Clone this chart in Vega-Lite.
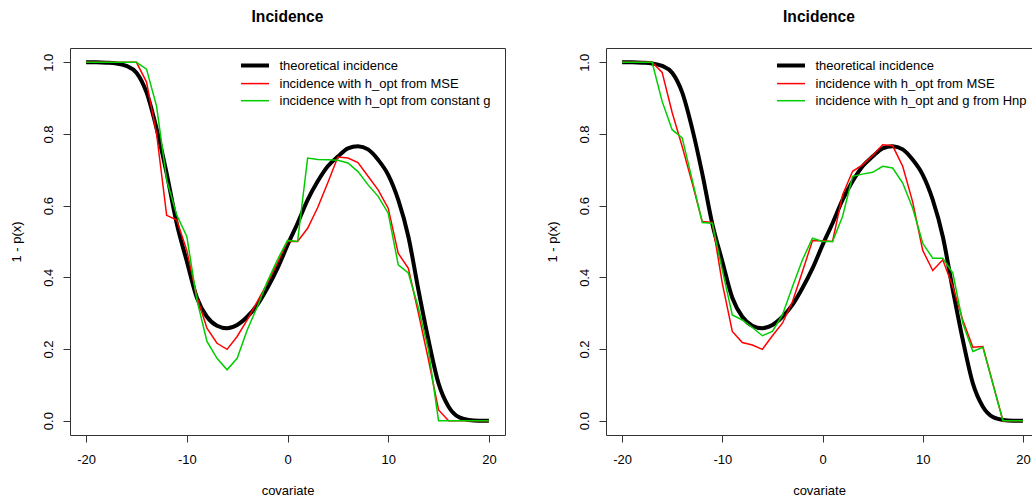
{
  "$schema": "https://vega.github.io/schema/vega-lite/v6.json",
  "background": "white",
  "padding": {"left": 9, "top": 9, "right": 0, "bottom": 0},
  "bounds": "flush",
  "spacing": 101,
  "resolve": {"scale": {"color": "independent"}, "legend": {"color": "independent"}},
  "datasets": {
    "theory": [
      {"x": -20, "p": 1.0}, {"x": -19, "p": 1.0}, {"x": -18, "p": 0.999}, {"x": -17, "p": 0.997},
      {"x": -16, "p": 0.99}, {"x": -15, "p": 0.971}, {"x": -14, "p": 0.916}, {"x": -13, "p": 0.815},
      {"x": -12, "p": 0.69}, {"x": -11, "p": 0.55}, {"x": -10, "p": 0.445}, {"x": -9, "p": 0.343},
      {"x": -8, "p": 0.29}, {"x": -7, "p": 0.265}, {"x": -6, "p": 0.258}, {"x": -5, "p": 0.267},
      {"x": -4, "p": 0.29}, {"x": -3, "p": 0.323}, {"x": -2, "p": 0.37}, {"x": -1, "p": 0.425},
      {"x": 0, "p": 0.49}, {"x": 1, "p": 0.551}, {"x": 2, "p": 0.616}, {"x": 3, "p": 0.668},
      {"x": 4, "p": 0.71}, {"x": 5, "p": 0.737}, {"x": 6, "p": 0.76}, {"x": 7, "p": 0.766},
      {"x": 8, "p": 0.757}, {"x": 9, "p": 0.728}, {"x": 10, "p": 0.686}, {"x": 11, "p": 0.616},
      {"x": 12, "p": 0.514}, {"x": 13, "p": 0.365}, {"x": 14, "p": 0.225}, {"x": 15, "p": 0.104},
      {"x": 16, "p": 0.039}, {"x": 17, "p": 0.01}, {"x": 18, "p": 0.002}, {"x": 19, "p": 0.0},
      {"x": 20, "p": 0.0}
    ],
    "left": [
      {"series": "incidence with h_opt from MSE", "x": -20, "p": 1.0},
      {"series": "incidence with h_opt from MSE", "x": -15, "p": 1.0},
      {"series": "incidence with h_opt from MSE", "x": -14, "p": 0.945},
      {"series": "incidence with h_opt from MSE", "x": -13, "p": 0.80},
      {"series": "incidence with h_opt from MSE", "x": -12, "p": 0.573},
      {"series": "incidence with h_opt from MSE", "x": -11, "p": 0.56},
      {"series": "incidence with h_opt from MSE", "x": -10, "p": 0.475},
      {"series": "incidence with h_opt from MSE", "x": -9, "p": 0.346},
      {"series": "incidence with h_opt from MSE", "x": -8, "p": 0.258},
      {"series": "incidence with h_opt from MSE", "x": -7, "p": 0.216},
      {"series": "incidence with h_opt from MSE", "x": -6, "p": 0.199},
      {"series": "incidence with h_opt from MSE", "x": -5, "p": 0.235},
      {"series": "incidence with h_opt from MSE", "x": -4, "p": 0.281},
      {"series": "incidence with h_opt from MSE", "x": -3, "p": 0.332},
      {"series": "incidence with h_opt from MSE", "x": -2, "p": 0.384},
      {"series": "incidence with h_opt from MSE", "x": -1, "p": 0.44},
      {"series": "incidence with h_opt from MSE", "x": 0, "p": 0.5},
      {"series": "incidence with h_opt from MSE", "x": 1, "p": 0.5},
      {"series": "incidence with h_opt from MSE", "x": 2, "p": 0.537},
      {"series": "incidence with h_opt from MSE", "x": 3, "p": 0.595},
      {"series": "incidence with h_opt from MSE", "x": 4, "p": 0.664},
      {"series": "incidence with h_opt from MSE", "x": 5, "p": 0.736},
      {"series": "incidence with h_opt from MSE", "x": 6, "p": 0.733},
      {"series": "incidence with h_opt from MSE", "x": 7, "p": 0.72},
      {"series": "incidence with h_opt from MSE", "x": 8, "p": 0.682},
      {"series": "incidence with h_opt from MSE", "x": 9, "p": 0.644},
      {"series": "incidence with h_opt from MSE", "x": 10, "p": 0.593},
      {"series": "incidence with h_opt from MSE", "x": 11, "p": 0.467},
      {"series": "incidence with h_opt from MSE", "x": 12, "p": 0.425},
      {"series": "incidence with h_opt from MSE", "x": 13, "p": 0.30},
      {"series": "incidence with h_opt from MSE", "x": 14, "p": 0.17},
      {"series": "incidence with h_opt from MSE", "x": 15, "p": 0.03},
      {"series": "incidence with h_opt from MSE", "x": 16, "p": 0.0},
      {"series": "incidence with h_opt from MSE", "x": 20, "p": 0.0},
      {"series": "incidence with h_opt from constant g", "x": -20, "p": 1.0},
      {"series": "incidence with h_opt from constant g", "x": -15, "p": 1.0},
      {"series": "incidence with h_opt from constant g", "x": -14, "p": 0.981},
      {"series": "incidence with h_opt from constant g", "x": -13, "p": 0.877},
      {"series": "incidence with h_opt from constant g", "x": -12, "p": 0.672},
      {"series": "incidence with h_opt from constant g", "x": -11, "p": 0.574},
      {"series": "incidence with h_opt from constant g", "x": -10, "p": 0.514},
      {"series": "incidence with h_opt from constant g", "x": -9, "p": 0.337},
      {"series": "incidence with h_opt from constant g", "x": -8, "p": 0.221},
      {"series": "incidence with h_opt from constant g", "x": -7, "p": 0.174},
      {"series": "incidence with h_opt from constant g", "x": -6, "p": 0.142},
      {"series": "incidence with h_opt from constant g", "x": -5, "p": 0.174},
      {"series": "incidence with h_opt from constant g", "x": -4, "p": 0.253},
      {"series": "incidence with h_opt from constant g", "x": -3, "p": 0.318},
      {"series": "incidence with h_opt from constant g", "x": -2, "p": 0.388},
      {"series": "incidence with h_opt from constant g", "x": -1, "p": 0.449},
      {"series": "incidence with h_opt from constant g", "x": 0, "p": 0.503},
      {"series": "incidence with h_opt from constant g", "x": 1, "p": 0.5},
      {"series": "incidence with h_opt from constant g", "x": 2, "p": 0.733},
      {"series": "incidence with h_opt from constant g", "x": 3, "p": 0.729},
      {"series": "incidence with h_opt from constant g", "x": 4, "p": 0.728},
      {"series": "incidence with h_opt from constant g", "x": 5, "p": 0.727},
      {"series": "incidence with h_opt from constant g", "x": 6, "p": 0.719},
      {"series": "incidence with h_opt from constant g", "x": 7, "p": 0.695},
      {"series": "incidence with h_opt from constant g", "x": 8, "p": 0.658},
      {"series": "incidence with h_opt from constant g", "x": 9, "p": 0.626},
      {"series": "incidence with h_opt from constant g", "x": 10, "p": 0.579},
      {"series": "incidence with h_opt from constant g", "x": 11, "p": 0.435},
      {"series": "incidence with h_opt from constant g", "x": 12, "p": 0.412},
      {"series": "incidence with h_opt from constant g", "x": 13, "p": 0.315},
      {"series": "incidence with h_opt from constant g", "x": 14, "p": 0.197},
      {"series": "incidence with h_opt from constant g", "x": 15, "p": 0.0},
      {"series": "incidence with h_opt from constant g", "x": 20, "p": 0.0}
    ],
    "right": [
      {"series": "incidence with h_opt from MSE", "x": -20, "p": 1.0},
      {"series": "incidence with h_opt from MSE", "x": -17, "p": 1.0},
      {"series": "incidence with h_opt from MSE", "x": -16, "p": 0.972},
      {"series": "incidence with h_opt from MSE", "x": -15, "p": 0.86},
      {"series": "incidence with h_opt from MSE", "x": -14, "p": 0.765},
      {"series": "incidence with h_opt from MSE", "x": -13, "p": 0.663},
      {"series": "incidence with h_opt from MSE", "x": -12, "p": 0.556},
      {"series": "incidence with h_opt from MSE", "x": -11, "p": 0.553},
      {"series": "incidence with h_opt from MSE", "x": -10, "p": 0.384},
      {"series": "incidence with h_opt from MSE", "x": -9, "p": 0.249},
      {"series": "incidence with h_opt from MSE", "x": -8, "p": 0.218},
      {"series": "incidence with h_opt from MSE", "x": -7, "p": 0.211},
      {"series": "incidence with h_opt from MSE", "x": -6, "p": 0.199},
      {"series": "incidence with h_opt from MSE", "x": -5, "p": 0.237},
      {"series": "incidence with h_opt from MSE", "x": -4, "p": 0.272},
      {"series": "incidence with h_opt from MSE", "x": -3, "p": 0.332},
      {"series": "incidence with h_opt from MSE", "x": -2, "p": 0.416},
      {"series": "incidence with h_opt from MSE", "x": -1, "p": 0.503},
      {"series": "incidence with h_opt from MSE", "x": 0, "p": 0.502},
      {"series": "incidence with h_opt from MSE", "x": 1, "p": 0.5},
      {"series": "incidence with h_opt from MSE", "x": 2, "p": 0.63},
      {"series": "incidence with h_opt from MSE", "x": 3, "p": 0.696},
      {"series": "incidence with h_opt from MSE", "x": 4, "p": 0.714},
      {"series": "incidence with h_opt from MSE", "x": 5, "p": 0.74},
      {"series": "incidence with h_opt from MSE", "x": 6, "p": 0.77},
      {"series": "incidence with h_opt from MSE", "x": 7, "p": 0.767},
      {"series": "incidence with h_opt from MSE", "x": 8, "p": 0.71},
      {"series": "incidence with h_opt from MSE", "x": 9, "p": 0.61},
      {"series": "incidence with h_opt from MSE", "x": 10, "p": 0.475},
      {"series": "incidence with h_opt from MSE", "x": 11, "p": 0.419},
      {"series": "incidence with h_opt from MSE", "x": 12, "p": 0.449},
      {"series": "incidence with h_opt from MSE", "x": 13, "p": 0.374},
      {"series": "incidence with h_opt from MSE", "x": 14, "p": 0.28},
      {"series": "incidence with h_opt from MSE", "x": 15, "p": 0.205},
      {"series": "incidence with h_opt from MSE", "x": 16, "p": 0.207},
      {"series": "incidence with h_opt from MSE", "x": 18, "p": 0.0},
      {"series": "incidence with h_opt from MSE", "x": 20, "p": 0.0},
      {"series": "incidence with h_opt and g from Hnp", "x": -20, "p": 1.0},
      {"series": "incidence with h_opt and g from Hnp", "x": -17, "p": 1.0},
      {"series": "incidence with h_opt and g from Hnp", "x": -16, "p": 0.891},
      {"series": "incidence with h_opt and g from Hnp", "x": -15, "p": 0.812},
      {"series": "incidence with h_opt and g from Hnp", "x": -14, "p": 0.789},
      {"series": "incidence with h_opt and g from Hnp", "x": -13, "p": 0.672},
      {"series": "incidence with h_opt and g from Hnp", "x": -12, "p": 0.553},
      {"series": "incidence with h_opt and g from Hnp", "x": -11, "p": 0.551},
      {"series": "incidence with h_opt and g from Hnp", "x": -10, "p": 0.421},
      {"series": "incidence with h_opt and g from Hnp", "x": -9, "p": 0.295},
      {"series": "incidence with h_opt and g from Hnp", "x": -8, "p": 0.281},
      {"series": "incidence with h_opt and g from Hnp", "x": -7, "p": 0.26},
      {"series": "incidence with h_opt and g from Hnp", "x": -6, "p": 0.237},
      {"series": "incidence with h_opt and g from Hnp", "x": -5, "p": 0.249},
      {"series": "incidence with h_opt and g from Hnp", "x": -4, "p": 0.295},
      {"series": "incidence with h_opt and g from Hnp", "x": -3, "p": 0.374},
      {"series": "incidence with h_opt and g from Hnp", "x": -2, "p": 0.449},
      {"series": "incidence with h_opt and g from Hnp", "x": -1, "p": 0.509},
      {"series": "incidence with h_opt and g from Hnp", "x": 0, "p": 0.5},
      {"series": "incidence with h_opt and g from Hnp", "x": 1, "p": 0.5},
      {"series": "incidence with h_opt and g from Hnp", "x": 2, "p": 0.57},
      {"series": "incidence with h_opt and g from Hnp", "x": 3, "p": 0.682},
      {"series": "incidence with h_opt and g from Hnp", "x": 4, "p": 0.688},
      {"series": "incidence with h_opt and g from Hnp", "x": 5, "p": 0.693},
      {"series": "incidence with h_opt and g from Hnp", "x": 6, "p": 0.71},
      {"series": "incidence with h_opt and g from Hnp", "x": 7, "p": 0.705},
      {"series": "incidence with h_opt and g from Hnp", "x": 8, "p": 0.663},
      {"series": "incidence with h_opt and g from Hnp", "x": 9, "p": 0.593},
      {"series": "incidence with h_opt and g from Hnp", "x": 10, "p": 0.495},
      {"series": "incidence with h_opt and g from Hnp", "x": 11, "p": 0.453},
      {"series": "incidence with h_opt and g from Hnp", "x": 12, "p": 0.453},
      {"series": "incidence with h_opt and g from Hnp", "x": 13, "p": 0.412},
      {"series": "incidence with h_opt and g from Hnp", "x": 14, "p": 0.272},
      {"series": "incidence with h_opt and g from Hnp", "x": 15, "p": 0.193},
      {"series": "incidence with h_opt and g from Hnp", "x": 16, "p": 0.205},
      {"series": "incidence with h_opt and g from Hnp", "x": 18, "p": 0.0},
      {"series": "incidence with h_opt and g from Hnp", "x": 20, "p": 0.0}
    ]
  },
  "config": {
    "font": "Liberation Sans",
    "view": {"stroke": "#333", "strokeWidth": 1},
    "axis": {
      "grid": false, "domain": false, "tickColor": "#333", "tickSize": 7, "tickWidth": 1,
      "labelFont": "Liberation Sans", "labelFontSize": 13, "labelColor": "#000",
      "titleFont": "Liberation Sans", "titleFontSize": 13, "titleColor": "#000", "titleFontWeight": "normal"
    },
    "axisX": {"labelPadding": 11, "labelBaseline": "top", "titleBaseline": "middle", "titleY": 55, "titleAnchor": "middle", "labelExpr": "datum.value < 0 ? '-' + abs(datum.value) : '' + datum.value"},
    "axisY": {"labelPadding": 11, "labelAngle": 270, "labelAlign": "center", "labelBaseline": "alphabetic", "titleAngle": 270, "titleBaseline": "middle", "titleX": -54, "titleY": 193.5, "titleAlign": "center"},
    "title": {"font": "Liberation Sans", "fontSize": 15.6, "fontWeight": "bold", "color": "#000", "frame": "group", "anchor": "middle", "baseline": "alphabetic", "offset": 22},
    "legend": {
      "orient": "none", "legendX": 178.5, "legendY": 11, "title": null, "padding": 0,
      "symbolType": "stroke", "symbolSize": 784, "symbolStrokeWidth": 1.5,
      "labelFont": "Liberation Sans", "labelFontSize": 13, "labelColor": "#000", "labelOffset": 18, "labelLimit": 400,
      "rowPadding": 3.1
    }
  },
  "hconcat": [
    {
      "width": 435, "height": 387,
      "title": "Incidence",
      "layer": [
        {
          "data": {"name": "theory"},
          "mark": {"type": "line", "color": "#000", "strokeWidth": 4, "interpolate": "monotone"},
          "encoding": {
            "x": {"field": "x", "type": "quantitative", "scale": {"domain": [-21.6, 21.6], "nice": false, "zero": false}, "axis": {"values": [-20, -10, 0, 10, 20], "title": "covariate"}},
            "y": {"field": "p", "type": "quantitative", "scale": {"domain": [-0.04, 1.04], "nice": false, "zero": false}, "axis": {"values": [0, 0.2, 0.4, 0.6, 0.8, 1], "format": ".1f", "title": "1 - p(x)"}}
          }
        },
        {
          "data": {"name": "left"},
          "mark": {"type": "line", "strokeWidth": 1.5},
          "encoding": {
            "x": {"field": "x", "type": "quantitative"},
            "y": {"field": "p", "type": "quantitative"},
            "color": {
              "field": "series", "type": "nominal",
              "scale": {"domain": ["theoretical incidence", "incidence with h_opt from MSE", "incidence with h_opt from constant g"], "range": ["#000000", "#FF0000", "#00CD00"]},
              "legend": {"encode": {"symbols": {"update": {"strokeWidth": {"signal": "datum.value === 'theoretical incidence' ? 4 : 1.5"}}}}}
            }
          }
        }
      ]
    },
    {
      "width": 426, "height": 387,
      "title": "Incidence",
      "layer": [
        {
          "data": {"name": "theory"},
          "mark": {"type": "line", "color": "#000", "strokeWidth": 4, "interpolate": "monotone"},
          "encoding": {
            "x": {"field": "x", "type": "quantitative", "scale": {"domain": [-21.6, 20.9], "nice": false, "zero": false}, "axis": {"values": [-20, -10, 0, 10, 20], "title": "covariate"}},
            "y": {"field": "p", "type": "quantitative", "scale": {"domain": [-0.04, 1.04], "nice": false, "zero": false}, "axis": {"values": [0, 0.2, 0.4, 0.6, 0.8, 1], "format": ".1f", "title": "1 - p(x)"}}
          }
        },
        {
          "data": {"name": "right"},
          "mark": {"type": "line", "strokeWidth": 1.5},
          "encoding": {
            "x": {"field": "x", "type": "quantitative"},
            "y": {"field": "p", "type": "quantitative"},
            "color": {
              "field": "series", "type": "nominal",
              "scale": {"domain": ["theoretical incidence", "incidence with h_opt from MSE", "incidence with h_opt and g from Hnp"], "range": ["#000000", "#FF0000", "#00CD00"]},
              "legend": {"encode": {"symbols": {"update": {"strokeWidth": {"signal": "datum.value === 'theoretical incidence' ? 4 : 1.5"}}}}}
            }
          }
        }
      ]
    }
  ]
}
